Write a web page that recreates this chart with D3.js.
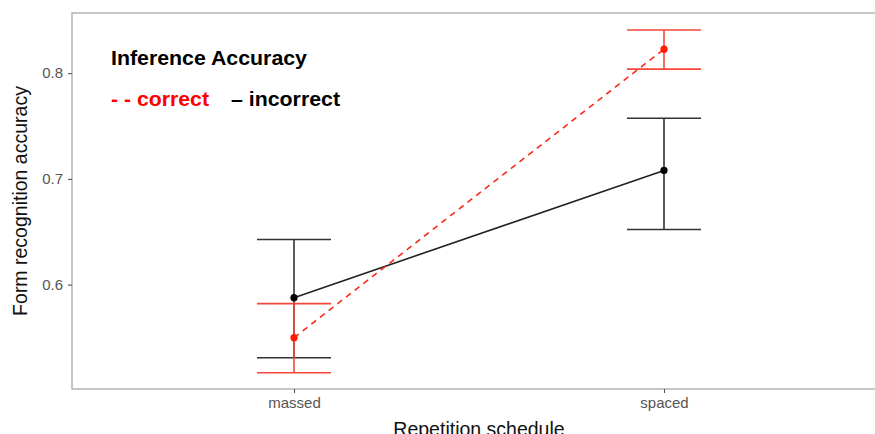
<!DOCTYPE html>
<html><head><meta charset="utf-8">
<script src="https://cdn.jsdelivr.net/npm/d3@7"></script>
<style>body{margin:0;background:#fff;overflow:hidden}svg{display:block}</style>
</head><body><svg id="c" width="875" height="434"></svg>
<script>
const categories = ["massed", "spaced"];
const correctMean = [0.5498, 0.8227];
const correctLow = [0.5166, 0.8038];
const correctHigh = [0.5820, 0.8408];
const incorrectMean = [0.5877, 0.7080];
const incorrectLow = [0.5308, 0.6521];
const incorrectHigh = [0.6427, 0.7573];
const yTicks = [0.6, 0.7, 0.8];

const svg = d3.select("#c");
const L = 72, T = 13, B = 389, R = 886;
const x = d3.scalePoint().domain(categories).range([L, R]).padding(0.6);
const y = d3.scaleLinear().domain([0.5013, 0.8569]).range([B, T]);
const band = x.step();
const font = "Liberation Sans, Arial, sans-serif";

// panel border
svg.append("rect").attr("x", L).attr("y", T).attr("width", R - L).attr("height", B - T)
  .attr("fill", "none").attr("stroke", "#a8a8a8").attr("stroke-width", 1.3);

// axes
const ya = svg.append("g").attr("transform", `translate(${L},0)`)
  .call(d3.axisLeft(y).tickValues(yTicks).tickSize(4).tickPadding(5).tickFormat(d3.format(".1f")));
const xa = svg.append("g").attr("transform", `translate(0,${B})`)
  .call(d3.axisBottom(x).tickSize(4).tickPadding(4));
[ya, xa].forEach(g => {
  g.select(".domain").remove();
  g.selectAll("line").attr("stroke", "#555").attr("stroke-width", 1.1);
  g.selectAll("text").attr("fill", "#555").style("font-family", font).style("font-size", "15px");
});

const series = [
  {mean: incorrectMean, low: incorrectLow, high: incorrectHigh, col: "#222", bar: "#333", dot: "#000", dash: null},
  {mean: correctMean, low: correctLow, high: correctHigh, col: "#fa2a1a", bar: "#f8453a", dot: "#ff1a00", dash: "6,5"}
];
const hw = band * 0.1;
series.forEach(s => {
  const g = svg.append("g");
  categories.forEach((c, i) => {
    const cx = x(c);
    g.append("line").attr("x1", cx).attr("x2", cx).attr("y1", y(s.low[i])).attr("y2", y(s.high[i]))
      .attr("stroke", s.bar).attr("stroke-width", 1.6);
    [s.low[i], s.high[i]].forEach(v => g.append("line").attr("x1", cx - hw).attr("x2", cx + hw)
      .attr("y1", y(v)).attr("y2", y(v)).attr("stroke", s.bar).attr("stroke-width", 1.6));
  });
  g.append("path").attr("d", d3.line().x((d, i) => x(categories[i])).y(d => y(d))(s.mean))
    .attr("fill", "none").attr("stroke", s.col).attr("stroke-width", 1.6).attr("stroke-dasharray", s.dash);
  s.mean.forEach((v, i) => g.append("circle").attr("cx", x(categories[i])).attr("cy", y(v)).attr("r", 3.6).attr("fill", s.dot));
});

// legend text
function leg(tx, ty, txt, col, len) {
  svg.append("text").attr("x", tx).attr("y", ty).text(txt)
    .attr("textLength", len).attr("lengthAdjust", "spacingAndGlyphs")
    .style("font-family", font).style("font-weight", "bold").style("font-size", "19.5px").attr("fill", col);
}
leg(111, 65, "Inference Accuracy", "#000", 196);
leg(111, 106, "- - correct", "#ff0000", 98);
leg(231, 106, "– incorrect", "#000", 109);

// axis titles
svg.append("text").attr("x", (L + R) / 2).attr("y", 436).attr("text-anchor", "middle").text("Repetition schedule")
  .style("font-family", font).style("font-size", "19.5px").attr("fill", "#111");
svg.append("text").attr("transform", `translate(27,${(T + B) / 2}) rotate(-90)`).attr("text-anchor", "middle")
  .text("Form recognition accuracy").style("font-family", font).style("font-size", "19.5px").attr("fill", "#111");
</script></body></html>
